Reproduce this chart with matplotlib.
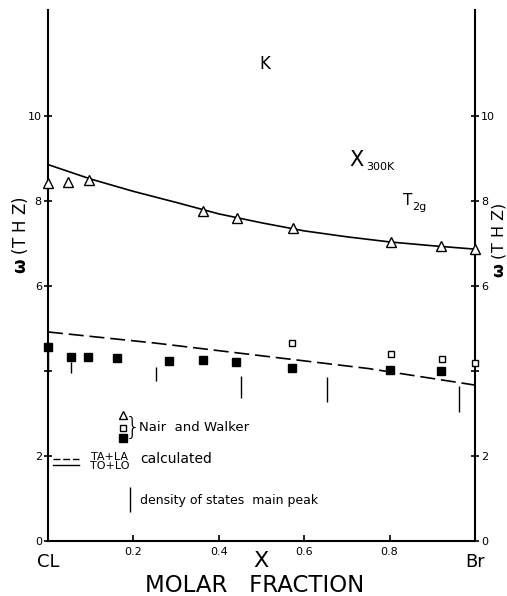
import matplotlib
matplotlib.use("Agg")
import matplotlib.pyplot as plt
import matplotlib.transforms as mtransforms

# Nair and Walker, T2g mode (open triangles)
tri_x = [0.0, 0.046, 0.097, 0.363, 0.443, 0.574, 0.803, 0.920, 1.0]
tri_y = [8.42, 8.45, 8.49, 7.76, 7.60, 7.36, 7.04, 6.94, 6.87]

# Nair and Walker, lower peaks (filled and open squares)
fsq_x = [0.0, 0.054, 0.094, 0.161, 0.283, 0.363, 0.440, 0.572, 0.801, 0.920]
fsq_y = [4.56, 4.33, 4.33, 4.31, 4.24, 4.26, 4.21, 4.08, 4.02, 3.99]
osq_x = [0.571, 0.803, 0.923, 1.0]
osq_y = [4.67, 4.41, 4.28, 4.20]

# calculated TO+LO (solid) and TA+LA (dashed)
to_x = [0.0, 0.1, 0.2, 0.3, 0.4, 0.5, 0.6, 0.7, 0.8, 0.9, 1.0]
to_y = [8.86, 8.52, 8.23, 7.97, 7.70, 7.49, 7.30, 7.16, 7.04, 6.95, 6.87]
ta_x = [0.0, 0.25, 0.5, 0.75, 1.0]
ta_y = [4.92, 4.66, 4.36, 4.06, 3.67]

# density of states main peak: position, top, bottom
dos_x = [0.0, 0.054, 0.254, 0.453, 0.654, 0.963]
dos_top = [4.50, 4.22, 4.10, 3.88, 3.87, 3.65]
dos_bot = [3.98, 3.96, 3.77, 3.36, 3.28, 3.03]

x_ticks = [0.2, 0.4, 0.6, 0.8]
x_labels = ["0.2", "0.4", "0.6", "0.8"]
y_ticks = [0, 2, 4, 6, 8, 10]
y_labels = ["0", "2", "", "6", "8", "10"]

plt.rcParams["font.family"] = ["DejaVu Sans"]

fig = plt.figure(figsize=(5.07, 5.96), dpi=100)
ax = fig.add_axes([0.0947, 0.0923, 0.842, 0.891])
ax.set_xlim(0, 1)
ax.set_ylim(0, 12.5)

for s in ["left", "right", "bottom"]:
    ax.spines[s].set_linewidth(1.5)
ax.spines["top"].set_visible(False)

ax.set_xticks(x_ticks)
ax.set_xticklabels(x_labels, fontsize=8)
ax.tick_params(axis="x", direction="in", length=4, width=1.2, pad=4)
ax.set_yticks(y_ticks)
ax.set_yticklabels(y_labels, fontsize=8)
ax.tick_params(axis="y", direction="inout", length=6, width=1.2, pad=1.5,
               right=True, labelright=True)

# curves
ax.plot(to_x, to_y, color="black", lw=1.2)
ax.plot(ta_x, ta_y, color="black", lw=1.2, dashes=(9, 3.5))

# points
ax.plot(tri_x, tri_y, ls="none", marker="^", ms=7, mfc="white", mec="black",
        mew=1.0, clip_on=False, zorder=5)
ax.plot(fsq_x, fsq_y, ls="none", marker="s", ms=6, mfc="black", mec="black",
        clip_on=False, zorder=5)
ax.plot(osq_x, osq_y, ls="none", marker="s", ms=5, mfc="white", mec="black",
        mew=1.0, clip_on=False, zorder=5)
ax.vlines(dos_x, dos_bot, dos_top, color="black", lw=1.0)

# labels inside the frame
ax.text(0.508, 11.22, "K", fontsize=12, ha="center", va="center")
ax.text(0.707, 8.96, "X", fontsize=15, ha="left", va="center")
ax.text(0.745, 8.80, "300K", fontsize=8, ha="left", va="center")
ax.text(0.831, 8.02, "T", fontsize=11, ha="left", va="center")
ax.text(0.852, 7.86, "2g", fontsize=8, ha="left", va="center")

# key
ax.plot([0.175], [2.96], ls="none", marker="^", ms=6, mfc="white", mec="black")
ax.plot([0.175], [2.65], ls="none", marker="s", ms=5, mfc="white", mec="black")
ax.plot([0.175], [2.43], ls="none", marker="s", ms=6, mfc="black", mec="black")
ax.text(0.180, 2.66, "}", fontsize=18, ha="left", va="center", fontweight="light")
ax.text(0.212, 2.66, "Nair  and Walker", fontsize=9.5, ha="left", va="center")
ax.plot([0.012, 0.073], [1.93, 1.93], color="black", lw=1.0, dashes=(5, 2))
ax.plot([0.012, 0.073], [1.80, 1.80], color="black", lw=1.0)
ax.text(0.145, 1.98, "TA+LA", fontsize=8, ha="center", va="center")
ax.text(0.145, 1.76, "TO+LO", fontsize=8, ha="center", va="center")
ax.text(0.215, 1.93, "calculated", fontsize=10, ha="left", va="center")
ax.vlines([0.192], [0.69], [1.28], color="black", lw=1.0)
ax.text(0.215, 0.96, "density of states  main peak", fontsize=9,
        ha="left", va="center")

# end labels and axis titles
tr = mtransforms.blended_transform_factory(ax.transData, ax.transAxes)
ax.text(0.0, -0.04, "CL", transform=tr, fontsize=13, ha="center", va="center")
ax.text(1.0, -0.04, "Br", transform=tr, fontsize=13, ha="center", va="center")
ax.text(0.5, -0.038, "X", transform=tr, fontsize=16, ha="center", va="center")
ax.text(0.483, -0.083, "MOLAR   FRACTION", transform=tr, fontsize=16.5,
        ha="center", va="center")

ylab = r"$\mathbf{\omega}$ (T H Z)"
fig.text(20 / 507, 1 - 235 / 596, ylab, rotation=90, fontsize=12,
         ha="center", va="center")
fig.text(499 / 507, 1 - 240 / 596, ylab, rotation=90, fontsize=11.5,
         ha="center", va="center")

fig.savefig("out.png", dpi=100)
